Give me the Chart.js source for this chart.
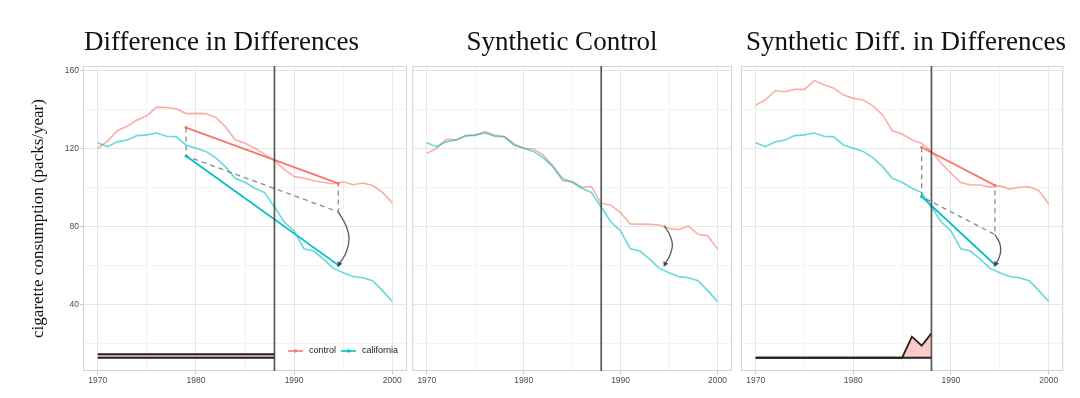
<!DOCTYPE html>
<html>
<head>
<meta charset="utf-8">
<script src="https://cdn.jsdelivr.net/npm/chart.js@4.4.1/dist/chart.umd.min.js"></script>
<style>
  html, body { margin: 0; padding: 0; background: #fff; }
  #wrap { position: relative; width: 1080px; height: 398px; overflow: hidden; }
  canvas { position: absolute; top: 0; }
</style>
</head>
<body>
<div id="wrap">
  <canvas id="didChart" width="399" height="398" style="left:22px"></canvas>
  <canvas id="scChart" width="348" height="398" style="left:388px"></canvas>
  <canvas id="sdidChart" width="348" height="398" style="left:732px"></canvas>
</div>
<script>
var years = [1970, 1971, 1972, 1973, 1974, 1975, 1976, 1977, 1978, 1979,
  1980, 1981, 1982, 1983, 1984, 1985, 1986, 1987, 1988, 1989,
  1990, 1991, 1992, 1993, 1994, 1995, 1996, 1997, 1998, 1999, 2000];

var california = [123.0, 121.0, 123.5, 124.4, 126.7, 127.1, 128.0, 126.4, 126.1, 121.9,
  120.2, 118.6, 115.4, 110.8, 104.8, 102.8, 99.7, 97.5, 90.1, 82.4,
  77.8, 68.7, 67.5, 63.4, 58.6, 56.4, 54.5, 53.8, 52.3, 47.2, 41.6];

var didControl = [120.1, 123.9, 129.2, 131.5, 134.7, 136.9, 141.3, 141.1, 140.5, 138.0,
  138.1, 138.0, 136.1, 131.3, 124.6, 122.8, 120.3, 117.2, 113.8, 109.4,
  105.7, 104.9, 103.6, 102.7, 102.0, 103.0, 101.5, 102.4, 101.1, 97.6, 92.2];

var scControl = [117.6, 120.2, 124.8, 124.5, 126.5, 126.8, 128.7, 127.0, 126.2, 122.4,
  120.2, 119.8, 116.8, 111.1, 103.6, 103.1, 100.2, 100.5, 92.0, 91.0,
  87.2, 81.4, 81.3, 81.2, 80.9, 79.1, 78.5, 80.3, 76.1, 75.3, 68.5];

var sdidControl = [142.4, 145.0, 149.7, 149.2, 150.4, 150.4, 154.9, 152.8, 151.0, 147.5,
  145.8, 145.0, 142.0, 137.3, 129.2, 127.5, 124.6, 122.7, 118.5, 112.5,
  107.4, 102.6, 101.4, 101.4, 100.3, 100.9, 99.3, 100.2, 100.5, 98.5, 91.6];

// time weights, drawn along the bottom of the pre-period
var preYears = [1970, 1971, 1972, 1973, 1974, 1975, 1976, 1977, 1978, 1979,
  1980, 1981, 1982, 1983, 1984, 1985, 1986, 1987, 1988];
var didWeights = [14.6, 14.6, 14.6, 14.6, 14.6, 14.6, 14.6, 14.6, 14.6, 14.6,
  14.6, 14.6, 14.6, 14.6, 14.6, 14.6, 14.6, 14.6, 14.6];
var sdidWeights = [12.8, 12.8, 12.8, 12.8, 12.8, 12.8, 12.8, 12.8, 12.8, 12.8,
  12.8, 12.8, 12.8, 12.8, 12.8, 12.8, 23.6, 19.0, 25.3];
var weightBase = 12.8;
var baseYears = [1970, 1988];
var baseValues = [12.8, 12.8];

var xTicks = [1970, 1975, 1980, 1985, 1990, 1995, 2000];
var yTicks = [20, 40, 60, 80, 100, 120, 140, 160];
var treatYear = 1988;
var yMin = 6, yMax = 162.4;

// DiD annotation
var didSegYears = [1979, 1994.5];
var didSegControl = [130.8, 102.2];
var didSegCalifornia = [116.2, 60.3];
var didGuideYears = [1979, 1979, 1994.5, 1994.5];
var didGuideValues = [130.8, 116.2, 87.6, 102.2];
var didArrowYears = [1994.5, 1995.3, 1995.6, 1995.3, 1994.6];
var didArrowValues = [87.6, 80.4, 73.8, 66.8, 60.9];

// SC annotation
var scArrowYears = [1994.5, 1995.1, 1995.35, 1995.1, 1994.6];
var scArrowValues = [80.5, 75.5, 70.5, 65.5, 60.9];

// SDID annotation
var sdidSegYears = [1987, 1994.5];
var sdidSegControl = [120.7, 101.2];
var sdidSegCalifornia = [95.4, 60.5];
var sdidGuideYears = [1987, 1987, 1994.5, 1994.5];
var sdidGuideValues = [120.7, 95.4, 76.0, 101.2];
var sdidArrowYears = [1994.5, 1994.95, 1995.1, 1994.95, 1994.6];
var sdidArrowValues = [76.0, 72.0, 68.2, 64.4, 61.0];

var RED = '#F8766D', TEAL = '#00BFC4';
var RED_SOFT = 'rgba(248,118,109,0.6)', TEAL_SOFT = 'rgba(0,191,196,0.6)';

function pts(xs, ys) {
  return xs.map(function(x, i) { return { x: x, y: ys[i] }; });
}

function rawLine(label, ys, color) {
  return { label: label, data: pts(years, ys), borderColor: color, borderWidth: 1.6,
    pointRadius: 0, tension: 0, fill: false, order: 10 };
}

function segment(label, xs, ys, color) {
  return { label: label, data: pts(xs, ys), borderColor: color, backgroundColor: color,
    borderWidth: 1.8, pointRadius: 1.6, pointBorderWidth: 0, tension: 0, fill: false, order: 4 };
}

function guide(xs, ys) {
  return { label: 'guide', data: pts(xs, ys), borderColor: 'rgba(110,110,110,0.8)',
    borderWidth: 1.3, borderDash: [5, 4], pointRadius: 0, tension: 0, fill: false, order: 6 };
}

function arrow(xs, ys) {
  return { label: 'arrow', data: pts(xs, ys), borderColor: 'rgba(60,60,60,0.85)',
    backgroundColor: 'rgba(60,60,60,0.9)', borderWidth: 1.3, tension: 0.4, fill: false,
    pointStyle: 'triangle', pointRotation: 205, pointBorderWidth: 0,
    pointRadius: function(c) { return c.dataIndex === c.dataset.data.length - 1 ? 3.2 : 0; },
    order: 2 };
}

function treatLine() {
  return { label: 'treat', data: pts([treatYear, treatYear], [yMin, yMax]),
    borderColor: 'rgba(60,60,60,0.85)', borderWidth: 1.7, pointRadius: 0, fill: false, order: 1 };
}

function weightLine(ys) {
  return { label: 'weights', data: pts(preYears, ys), borderColor: '#222', borderWidth: 1.8,
    backgroundColor: 'rgba(248,118,109,0.38)', fill: { value: weightBase },
    pointRadius: 0, tension: 0, order: 8 };
}

function baseLine() {
  return { label: 'base', data: pts(baseYears, baseValues), borderColor: '#222', borderWidth: 1.8,
    pointRadius: 0, fill: false, order: 7 };
}

var panelBorder = {
  id: 'panelBorder',
  beforeDatasetsDraw: function(chart) {
    var a = chart.chartArea, ctx = chart.ctx;
    ctx.save();
    ctx.strokeStyle = '#d4d4d4';
    ctx.lineWidth = 1;
    ctx.strokeRect(a.left + 0.5, a.top + 0.5, a.right - a.left - 1, a.bottom - a.top - 1);
    ctx.restore();
  }
};

var insideLegend = {
  id: 'insideLegend',
  afterDatasetsDraw: function(chart, args, opts) {
    if (!opts.items) return;
    var a = chart.chartArea, ctx = chart.ctx;
    var x = a.left + 205, y = a.bottom - 20;
    ctx.save();
    ctx.font = '9px "Liberation Sans"';
    ctx.textBaseline = 'middle';
    opts.items.forEach(function(it) {
      ctx.strokeStyle = it.color;
      ctx.fillStyle = it.color;
      ctx.lineWidth = 1.6;
      ctx.beginPath();
      ctx.moveTo(x, y);
      ctx.lineTo(x + 15, y);
      ctx.stroke();
      ctx.beginPath();
      ctx.arc(x + 7.5, y, 1.7, 0, Math.PI * 2);
      ctx.fill();
      ctx.fillStyle = '#1a1a1a';
      ctx.fillText(it.text, x + 21, y);
      x += 21 + ctx.measureText(it.text).width + 5;
    });
    ctx.restore();
  }
};

function makePanel(id, title, datasets, cfg) {
  var tickFont = { family: 'Liberation Sans', size: 8.5 };
  return new Chart(document.getElementById(id), {
    type: 'line',
    data: { datasets: datasets },
    plugins: [panelBorder, insideLegend],
    options: {
      responsive: false,
      animation: false,
      events: [],
      layout: { padding: 0 },
      plugins: {
        legend: { display: false },
        tooltip: { enabled: false },
        title: {
          display: true, text: title, color: '#111',
          font: { family: 'Liberation Serif', size: 27, weight: 'normal' },
          padding: { top: 26.4, bottom: 7.2 }
        },
        insideLegend: { items: cfg.legend }
      },
      scales: {
        x: {
          type: 'linear', min: 1968.5, max: 2001.5,
          afterBuildTicks: function(axis) { axis.ticks = xTicks.map(function(v) { return { value: v }; }); },
          afterFit: function(axis) { axis.height = 27; },
          ticks: {
            autoSkip: false, maxRotation: 0, padding: 2, color: '#4d4d4d', font: tickFont,
            callback: function(v) { return v % 10 === 0 ? String(v) : ''; }
          },
          grid: {
            color: function(c) { return c.tick && c.tick.value % 10 === 0 ? '#e6e6e6' : '#f3f3f3'; },
            tickLength: 3,
            tickColor: function(c) { return c.tick && c.tick.value % 10 === 0 ? '#c8c8c8' : 'rgba(0,0,0,0)'; }
          },
          border: { display: false }
        },
        y: {
          type: 'linear', min: yMin, max: yMax,
          afterBuildTicks: function(axis) { axis.ticks = yTicks.map(function(v) { return { value: v }; }); },
          afterFit: function(axis) { axis.width = cfg.yWidth; },
          ticks: {
            display: cfg.showY, padding: 1, color: '#4d4d4d', font: tickFont,
            callback: function(v) { return v % 40 === 0 ? String(v) : ''; }
          },
          grid: {
            color: function(c) { return c.tick && c.tick.value % 40 === 0 ? '#e6e6e6' : '#f3f3f3'; },
            drawTicks: cfg.showY,
            tickLength: 3,
            tickColor: function(c) { return c.tick && c.tick.value % 40 === 0 ? '#c8c8c8' : 'rgba(0,0,0,0)'; }
          },
          border: { display: false },
          title: {
            display: cfg.showY, text: 'cigarette consumption (packs/year)', color: '#111',
            font: { family: 'Liberation Serif', size: 17 },
            padding: { top: 6, bottom: 0 }
          }
        },
        // empty right-hand axis: keeps the plot narrower than the title band
        yRight: {
          type: 'linear', position: 'right', min: yMin, max: yMax,
          afterFit: function(axis) { axis.width = cfg.rightGap; },
          ticks: { display: false },
          grid: { display: false },
          border: { display: false }
        }
      }
    }
  });
}

makePanel('didChart', 'Difference in Differences', [
  treatLine(),
  arrow(didArrowYears, didArrowValues),
  segment('california trend', didSegYears, didSegCalifornia, TEAL),
  segment('control trend', didSegYears, didSegControl, RED),
  guide(didGuideYears, didGuideValues),
  weightLine(didWeights),
  baseLine(),
  rawLine('california', california, TEAL_SOFT),
  rawLine('control', didControl, RED_SOFT)
], { showY: true, yWidth: 61, rightGap: 14,
  legend: [{ text: 'control', color: RED }, { text: 'california', color: TEAL }] });

makePanel('scChart', 'Synthetic Control', [
  treatLine(),
  arrow(scArrowYears, scArrowValues),
  rawLine('california', california, TEAL_SOFT),
  rawLine('control', scControl, RED_SOFT)
], { showY: false, yWidth: 24.3, rightGap: 1, legend: null });

makePanel('sdidChart', 'Synthetic Diff. in Differences', [
  treatLine(),
  arrow(sdidArrowYears, sdidArrowValues),
  segment('california trend', sdidSegYears, sdidSegCalifornia, TEAL),
  segment('control trend', sdidSegYears, sdidSegControl, RED),
  guide(sdidGuideYears, sdidGuideValues),
  weightLine(sdidWeights),
  baseLine(),
  rawLine('california', california, TEAL_SOFT),
  rawLine('control', sdidControl, RED_SOFT)
], { showY: false, yWidth: 9, rightGap: 16.7, legend: null });
</script>
</body>
</html>
